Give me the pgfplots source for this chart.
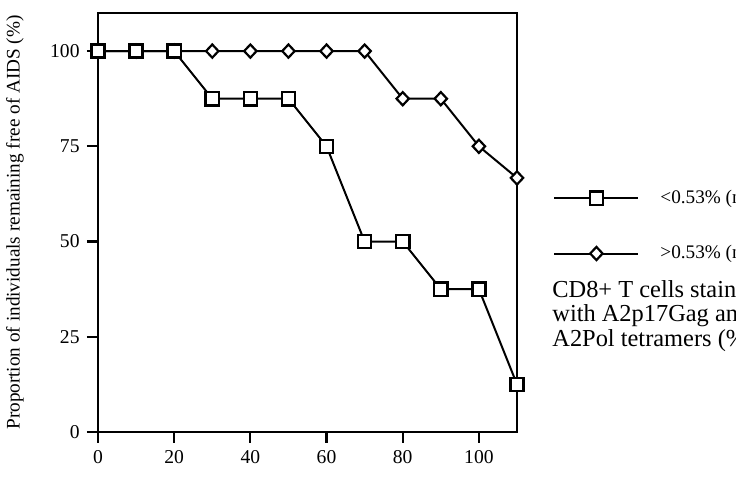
\documentclass[border=0pt]{standalone}
\usepackage{fontspec}
\setmainfont{Liberation Serif}
\usepackage{pgfplots}
\pgfplotsset{compat=1.18}
\begin{document}
\begin{tikzpicture}
\path[use as bounding box, clip] (0,0) rectangle (368pt,238.5pt);
\begin{axis}[
  at={(49pt,22.5pt)}, anchor=south west,
  scale only axis, width=209.5pt, height=209.5pt,
  xmin=0, xmax=110, ymin=0, ymax=110,
  clip=false, axis on top,
  xtick={0,20,40,60,80,100},
  ytick={0,25,50,75,100},
  xtick pos=bottom, ytick pos=left,
  tick align=outside,
  major tick length=5.5pt,
  tick style={line width=1.1pt, black},
  axis line style={line width=1.3pt},
  /pgf/number format/assume math mode=true,
  tick label style={font=\fontsize{9.8}{11}\selectfont},
  yticklabel style={inner sep=0.5pt, xshift=-3pt},
  ylabel={Proportion of individuals remaining free of AIDS (\%)},
  ylabel style={font=\fontsize{9.6}{11}\selectfont, at={(axis description cs:-0.198,0.5)}, anchor=center},
  reverse legend,
  legend style={at={(1.086,0.492)}, anchor=west, draw=none, fill=none,
    inner sep=0pt, row sep=15.5pt, column sep=8.5pt,
    font=\fontsize{9.6}{10}\selectfont},
  legend cell align=left,
  legend image code/.code={%
    \draw[mark repeat=2,mark phase=2] plot coordinates {(0pt,0pt) (21pt,0pt) (42pt,0pt)};},
]
\addplot[black, line width=1pt, mark=diamond*, mark size=3.3pt,
  mark options={fill=white, line width=1.1pt, xscale=1.25}]
  coordinates {(0,100) (10,100) (20,100) (30,100) (40,100) (50,100) (60,100) (70,100) (80,87.5) (90,87.5) (100,75) (110,66.7)};
\addlegendentry{\textgreater0.53\% (n = 9)}
\addplot[black, line width=1pt, mark=square*, mark size=3.3pt,
  mark options={fill=white, line width=1.2pt}]
  coordinates {(0,100) (10,100) (20,100) (30,87.5) (40,87.5) (50,87.5) (60,75) (70,50) (80,50) (90,37.5) (100,37.5) (110,12.5)};
\addlegendentry{\textless0.53\% (n = 8)}
\end{axis}
\node[anchor=north west, align=left, inner sep=0pt, font=\fontsize{12.2}{12.2}\selectfont]
  at (276pt,98.5pt) {CD8+ T cells stained\\with A2p17Gag and\\A2Pol tetramers (\%)};
\end{tikzpicture}
\end{document}
